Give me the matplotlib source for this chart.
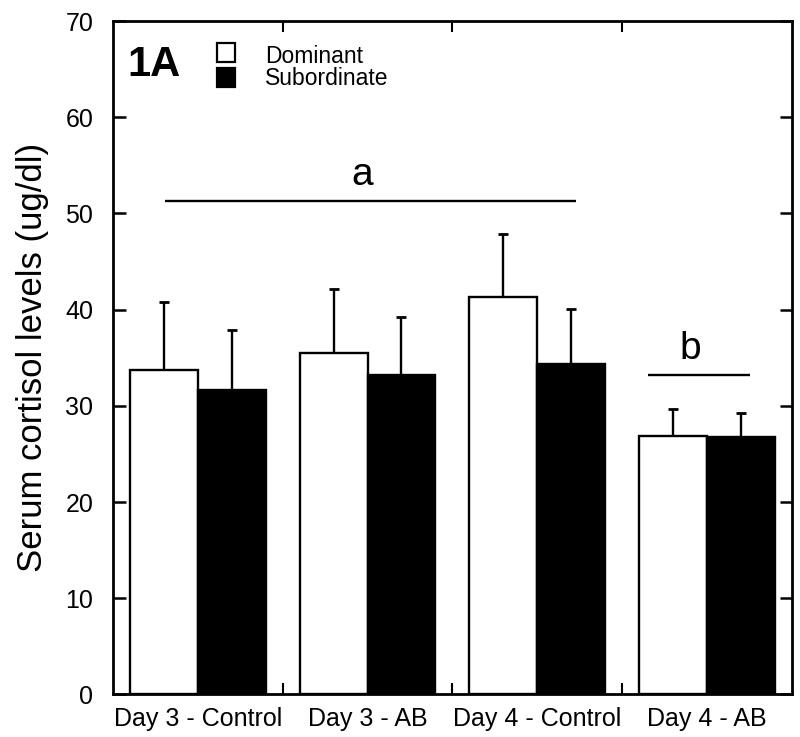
"""
Figure 1A - serum cortisol levels, dominant vs subordinate (bar chart with SE bars).
"""

import numpy as np
import matplotlib
matplotlib.use("Agg")
import matplotlib.pyplot as plt
from matplotlib.patches import Rectangle

plt.rcParams.update({"font.family": ["Liberation Sans", "DejaVu Sans"]})

# Data
groups = ["Day 3 - Control", "Day 3 - AB", "Day 4 - Control", "Day 4 - AB"]
dominant = [33.7, 35.5, 41.35, 26.9]
dominant_err = [7.1, 6.7, 6.55, 2.8]
subordinate = [31.6, 33.2, 34.35, 26.8]
subordinate_err = [6.3, 6.0, 5.75, 2.5]

# significance bars: (x start, x end, y, label)
sig_a = (-0.19, 2.23, 51.3, "a")
sig_b = (2.65, 3.25, 33.2, "b")

fig = plt.figure(figsize=(8.0, 7.37), dpi=100)
ax = fig.add_axes([0.141, 0.0577, 0.849, 0.9137])

x = np.arange(len(groups))
W = 0.40
EDGE = "black"

ax.bar(x - W / 2, dominant, W, color="white", edgecolor=EDGE, linewidth=1.7, zorder=2)
ax.bar(x + W / 2, subordinate, W, color="black", edgecolor=EDGE, linewidth=1.7, zorder=2)
ax.errorbar(x - W / 2, dominant, yerr=[np.zeros(4), dominant_err], fmt="none",
            ecolor="black", elinewidth=1.7, capsize=3.4, capthick=2.0, zorder=1)
ax.errorbar(x + W / 2, subordinate, yerr=[np.zeros(4), subordinate_err], fmt="none",
            ecolor="black", elinewidth=1.7, capsize=3.4, capthick=2.0, zorder=1)

for x0, x1, y, lab in (sig_a, sig_b):
    ax.plot([x0, x1], [y, y], color="black", lw=1.7, solid_capstyle="butt")
    ax.text((x0 + x1) / 2 - 0.05, y + 1.7, lab, ha="center", va="baseline", fontsize=28)

ax.set_xlim(-0.5, len(groups) - 0.5)
ax.set_ylim(0, 70)
ax.set_yticks(np.arange(0, 71, 10))
ax.set_xticks(x)
ax.set_xticklabels(groups, fontsize=18)
ax.set_xticks(x[:-1] + 0.5, minor=True)
ax.tick_params(axis="x", which="major", length=0, pad=9)
ax.tick_params(axis="x", which="minor", direction="in", length=8, width=1.5,
               top=True, bottom=True)
ax.tick_params(axis="y", direction="in", length=9, width=1.8, labelsize=18,
               left=True, right=True, pad=14)
ax.set_ylabel("Serum cortisol levels (ug/dl)", fontsize=25, labelpad=12)
for s in ax.spines.values():
    s.set_linewidth(2.0)

# panel label and legend
ax.text(0.021, 0.9185, "1A", transform=ax.transAxes, fontsize=30, fontweight="bold",
        ha="left", va="baseline")
for yy, fc, lab, base in ((0.9399, "white", "Dominant", 0.9373),
                          (0.9027, "black", "Subordinate", 0.9051)):
    ax.add_patch(Rectangle((0.153, yy), 0.0265, 0.0282, transform=ax.transAxes,
                           facecolor=fc, edgecolor="black", linewidth=1.6, clip_on=False))
    ax.text(0.224, base, lab, transform=ax.transAxes, fontsize=16.5,
            ha="left", va="baseline")

fig.savefig("out.png", dpi=100)
